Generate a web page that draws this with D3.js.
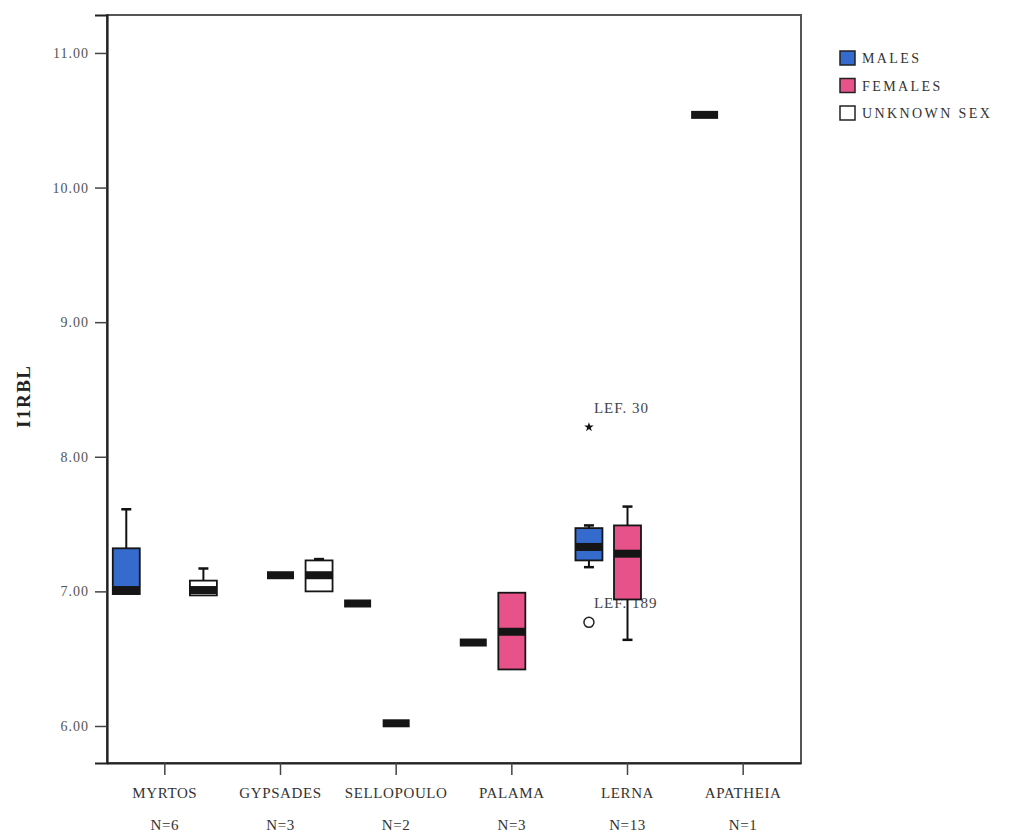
<!DOCTYPE html>
<html><head><meta charset="utf-8">
<script src="https://cdn.jsdelivr.net/npm/d3@7"></script>
<style>
body{margin:0;background:#fff;}
text{font-family:"Liberation Serif","DejaVu Serif",serif;}
</style>
</head><body>
<svg id="chart" width="1023" height="836"></svg>
<script>
// ---- data ----
const categories = ["MYRTOS","GYPSADES","SELLOPOULO","PALAMA","LERNA","APATHEIA"];
const categoryN = [6, 3, 2, 3, 13, 1];
const sexes = ["MALES","FEMALES","UNKNOWN SEX"];
const yTickValues = [6, 7, 8, 9, 10, 11];

const boxCategory = ["MYRTOS","MYRTOS","GYPSADES","GYPSADES","SELLOPOULO","SELLOPOULO","PALAMA","PALAMA","LERNA","LERNA","APATHEIA"];
const boxSex      = ["MALES","UNKNOWN SEX","FEMALES","UNKNOWN SEX","MALES","FEMALES","MALES","FEMALES","MALES","FEMALES","MALES"];
const boxMin      = [6.98, 6.97, 7.12, 7.00, 6.91, 6.02, 6.62, 6.42, 7.18, 6.64, 10.54];
const boxQ1       = [6.98, 6.97, 7.12, 7.00, 6.91, 6.02, 6.62, 6.42, 7.23, 6.94, 10.54];
const boxMedian   = [7.01, 7.01, 7.12, 7.12, 6.91, 6.02, 6.62, 6.70, 7.33, 7.28, 10.54];
const boxQ3       = [7.32, 7.08, 7.12, 7.23, 6.91, 6.02, 6.62, 6.99, 7.47, 7.49, 10.54];
const boxMax      = [7.61, 7.17, 7.12, 7.24, 6.91, 6.02, 6.62, 6.99, 7.49, 7.63, 10.54];

const outlierCategory = ["LERNA","LERNA"];
const outlierSex      = ["MALES","MALES"];
const outlierValue    = [8.22, 6.77];
const outlierKind     = ["extreme","outlier"];
const outlierLabel    = ["LEF. 30","LEF. 189"];

const sexColor = {"MALES":"#356bcc","FEMALES":"#e8528a","UNKNOWN SEX":"#ffffff"};

// ---- layout ----
const svg = d3.select("#chart");
const frame = {left:107, top:15, right:801, bottom:763};

const x = d3.scaleBand().domain(categories).range([frame.left, frame.right]);
const xSex = d3.scaleBand().domain(sexes).range([0, x.bandwidth()]);
const y = d3.scaleLinear().domain([5.725, 11.282]).range([frame.bottom, frame.top]);
const boxW = xSex.bandwidth() * 0.7;
const cx = (cat, sex) => x(cat) + xSex(sex) + xSex.bandwidth() / 2;

const boxes = boxCategory.map((c, i) => ({
  cat: c, sex: boxSex[i], min: boxMin[i], q1: boxQ1[i], med: boxMedian[i], q3: boxQ3[i], max: boxMax[i]
}));
const outliers = outlierCategory.map((c, i) => ({
  cat: c, sex: outlierSex[i], v: outlierValue[i], kind: outlierKind[i], label: outlierLabel[i]
}));

// frame
svg.append("rect")
  .attr("x", frame.left).attr("y", frame.top)
  .attr("width", frame.right - frame.left).attr("height", frame.bottom - frame.top)
  .attr("fill", "none").attr("stroke", "#555").attr("stroke-width", 2);

// y axis
const yAxis = svg.append("g")
  .attr("transform", `translate(${frame.left},0)`)
  .call(d3.axisLeft(y).tickValues(yTickValues).tickFormat(d3.format(".2f")).tickSize(12).tickPadding(6));
yAxis.select(".domain").attr("stroke", "#222").attr("stroke-width", 2.2);
yAxis.selectAll(".tick line").attr("stroke", "#444").attr("stroke-width", 1.5);
yAxis.selectAll(".tick text")
  .attr("font-size", 14).attr("letter-spacing", 1).attr("fill", "#555")
  .attr("font-family", "'Liberation Serif', serif");

// x axis
const xAxis = svg.append("g")
  .attr("transform", `translate(0,${frame.bottom})`)
  .call(d3.axisBottom(x).tickSize(12).tickSizeOuter(0));
xAxis.select(".domain").attr("stroke", "#222").attr("stroke-width", 2.2);
xAxis.selectAll(".tick line").attr("stroke", "#444").attr("stroke-width", 1.5);
xAxis.selectAll(".tick text").each(function(d, i) {
  const t = d3.select(this).text(null)
    .attr("y", null).attr("dy", null)
    .attr("font-size", 15).attr("letter-spacing", 0.6).attr("fill", "#333")
    .attr("font-family", "'Liberation Serif', serif");
  t.append("tspan").attr("x", 0).attr("y", 35).text(d);
  t.append("tspan").attr("x", 0).attr("y", 67).text("N=" + categoryN[categories.indexOf(d)]);
});

// y title
svg.append("text")
  .attr("transform", `translate(30,${y(8.45)}) rotate(-90)`)
  .attr("text-anchor", "middle")
  .attr("font-size", 19).attr("font-weight", "bold").attr("letter-spacing", 1.5)
  .attr("fill", "#222")
  .text("I1RBL");

// outlier labels (drawn beneath the boxes)
svg.append("g").selectAll("text").data(outliers).join("text")
  .attr("x", d => cx(d.cat, d.sex) + 5)
  .attr("y", d => y(d.v) - 14)
  .attr("font-size", 15).attr("letter-spacing", 1).attr("fill", "#444")
  .text(d => d.label);

// boxes
const g = svg.append("g").selectAll("g").data(boxes).join("g");

// whiskers
g.filter(d => d.max > d.q3).append("line")
  .attr("x1", d => cx(d.cat, d.sex)).attr("x2", d => cx(d.cat, d.sex))
  .attr("y1", d => y(d.q3)).attr("y2", d => y(d.max))
  .attr("stroke", "#111").attr("stroke-width", 2);
g.filter(d => d.max > d.q3).append("line")
  .attr("x1", d => cx(d.cat, d.sex) - 5).attr("x2", d => cx(d.cat, d.sex) + 5)
  .attr("y1", d => y(d.max)).attr("y2", d => y(d.max))
  .attr("stroke", "#111").attr("stroke-width", 2.5);
g.filter(d => d.min < d.q1).append("line")
  .attr("x1", d => cx(d.cat, d.sex)).attr("x2", d => cx(d.cat, d.sex))
  .attr("y1", d => y(d.q1)).attr("y2", d => y(d.min))
  .attr("stroke", "#111").attr("stroke-width", 2);
g.filter(d => d.min < d.q1).append("line")
  .attr("x1", d => cx(d.cat, d.sex) - 5).attr("x2", d => cx(d.cat, d.sex) + 5)
  .attr("y1", d => y(d.min)).attr("y2", d => y(d.min))
  .attr("stroke", "#111").attr("stroke-width", 2.5);

// box bodies
g.filter(d => d.q3 > d.q1).append("rect")
  .attr("x", d => cx(d.cat, d.sex) - boxW / 2).attr("width", boxW)
  .attr("y", d => y(d.q3)).attr("height", d => y(d.q1) - y(d.q3))
  .attr("fill", d => sexColor[d.sex]).attr("stroke", "#151515").attr("stroke-width", 1.8);

// medians
g.append("line")
  .attr("x1", d => cx(d.cat, d.sex) - boxW / 2).attr("x2", d => cx(d.cat, d.sex) + boxW / 2)
  .attr("y1", d => y(d.med)).attr("y2", d => y(d.med))
  .attr("stroke", "#151515").attr("stroke-width", 8);

// outlier marks
const og = svg.append("g");
og.selectAll("path").data(outliers.filter(d => d.kind === "extreme")).join("path")
  .attr("transform", d => `translate(${cx(d.cat, d.sex)},${y(d.v)})`)
  .attr("d", d3.symbol(d3.symbolStar, 28))
  .attr("fill", "#111");
og.selectAll("circle").data(outliers.filter(d => d.kind === "outlier")).join("circle")
  .attr("cx", d => cx(d.cat, d.sex)).attr("cy", d => y(d.v)).attr("r", 5)
  .attr("fill", "#fff").attr("stroke", "#222").attr("stroke-width", 1.5);

// legend
const leg = svg.append("g").attr("transform", "translate(840,51)");
const li = leg.selectAll("g").data(sexes).join("g")
  .attr("transform", (d, i) => `translate(0,${i * 27.5})`);
li.append("rect").attr("width", 15).attr("height", 14)
  .attr("fill", d => sexColor[d]).attr("stroke", "#222").attr("stroke-width", 1.5);
li.append("text").attr("x", 22).attr("y", 12)
  .attr("font-size", 14).attr("letter-spacing", 2.4).attr("fill", "#333")
  .text(d => d);
</script>
</body></html>
